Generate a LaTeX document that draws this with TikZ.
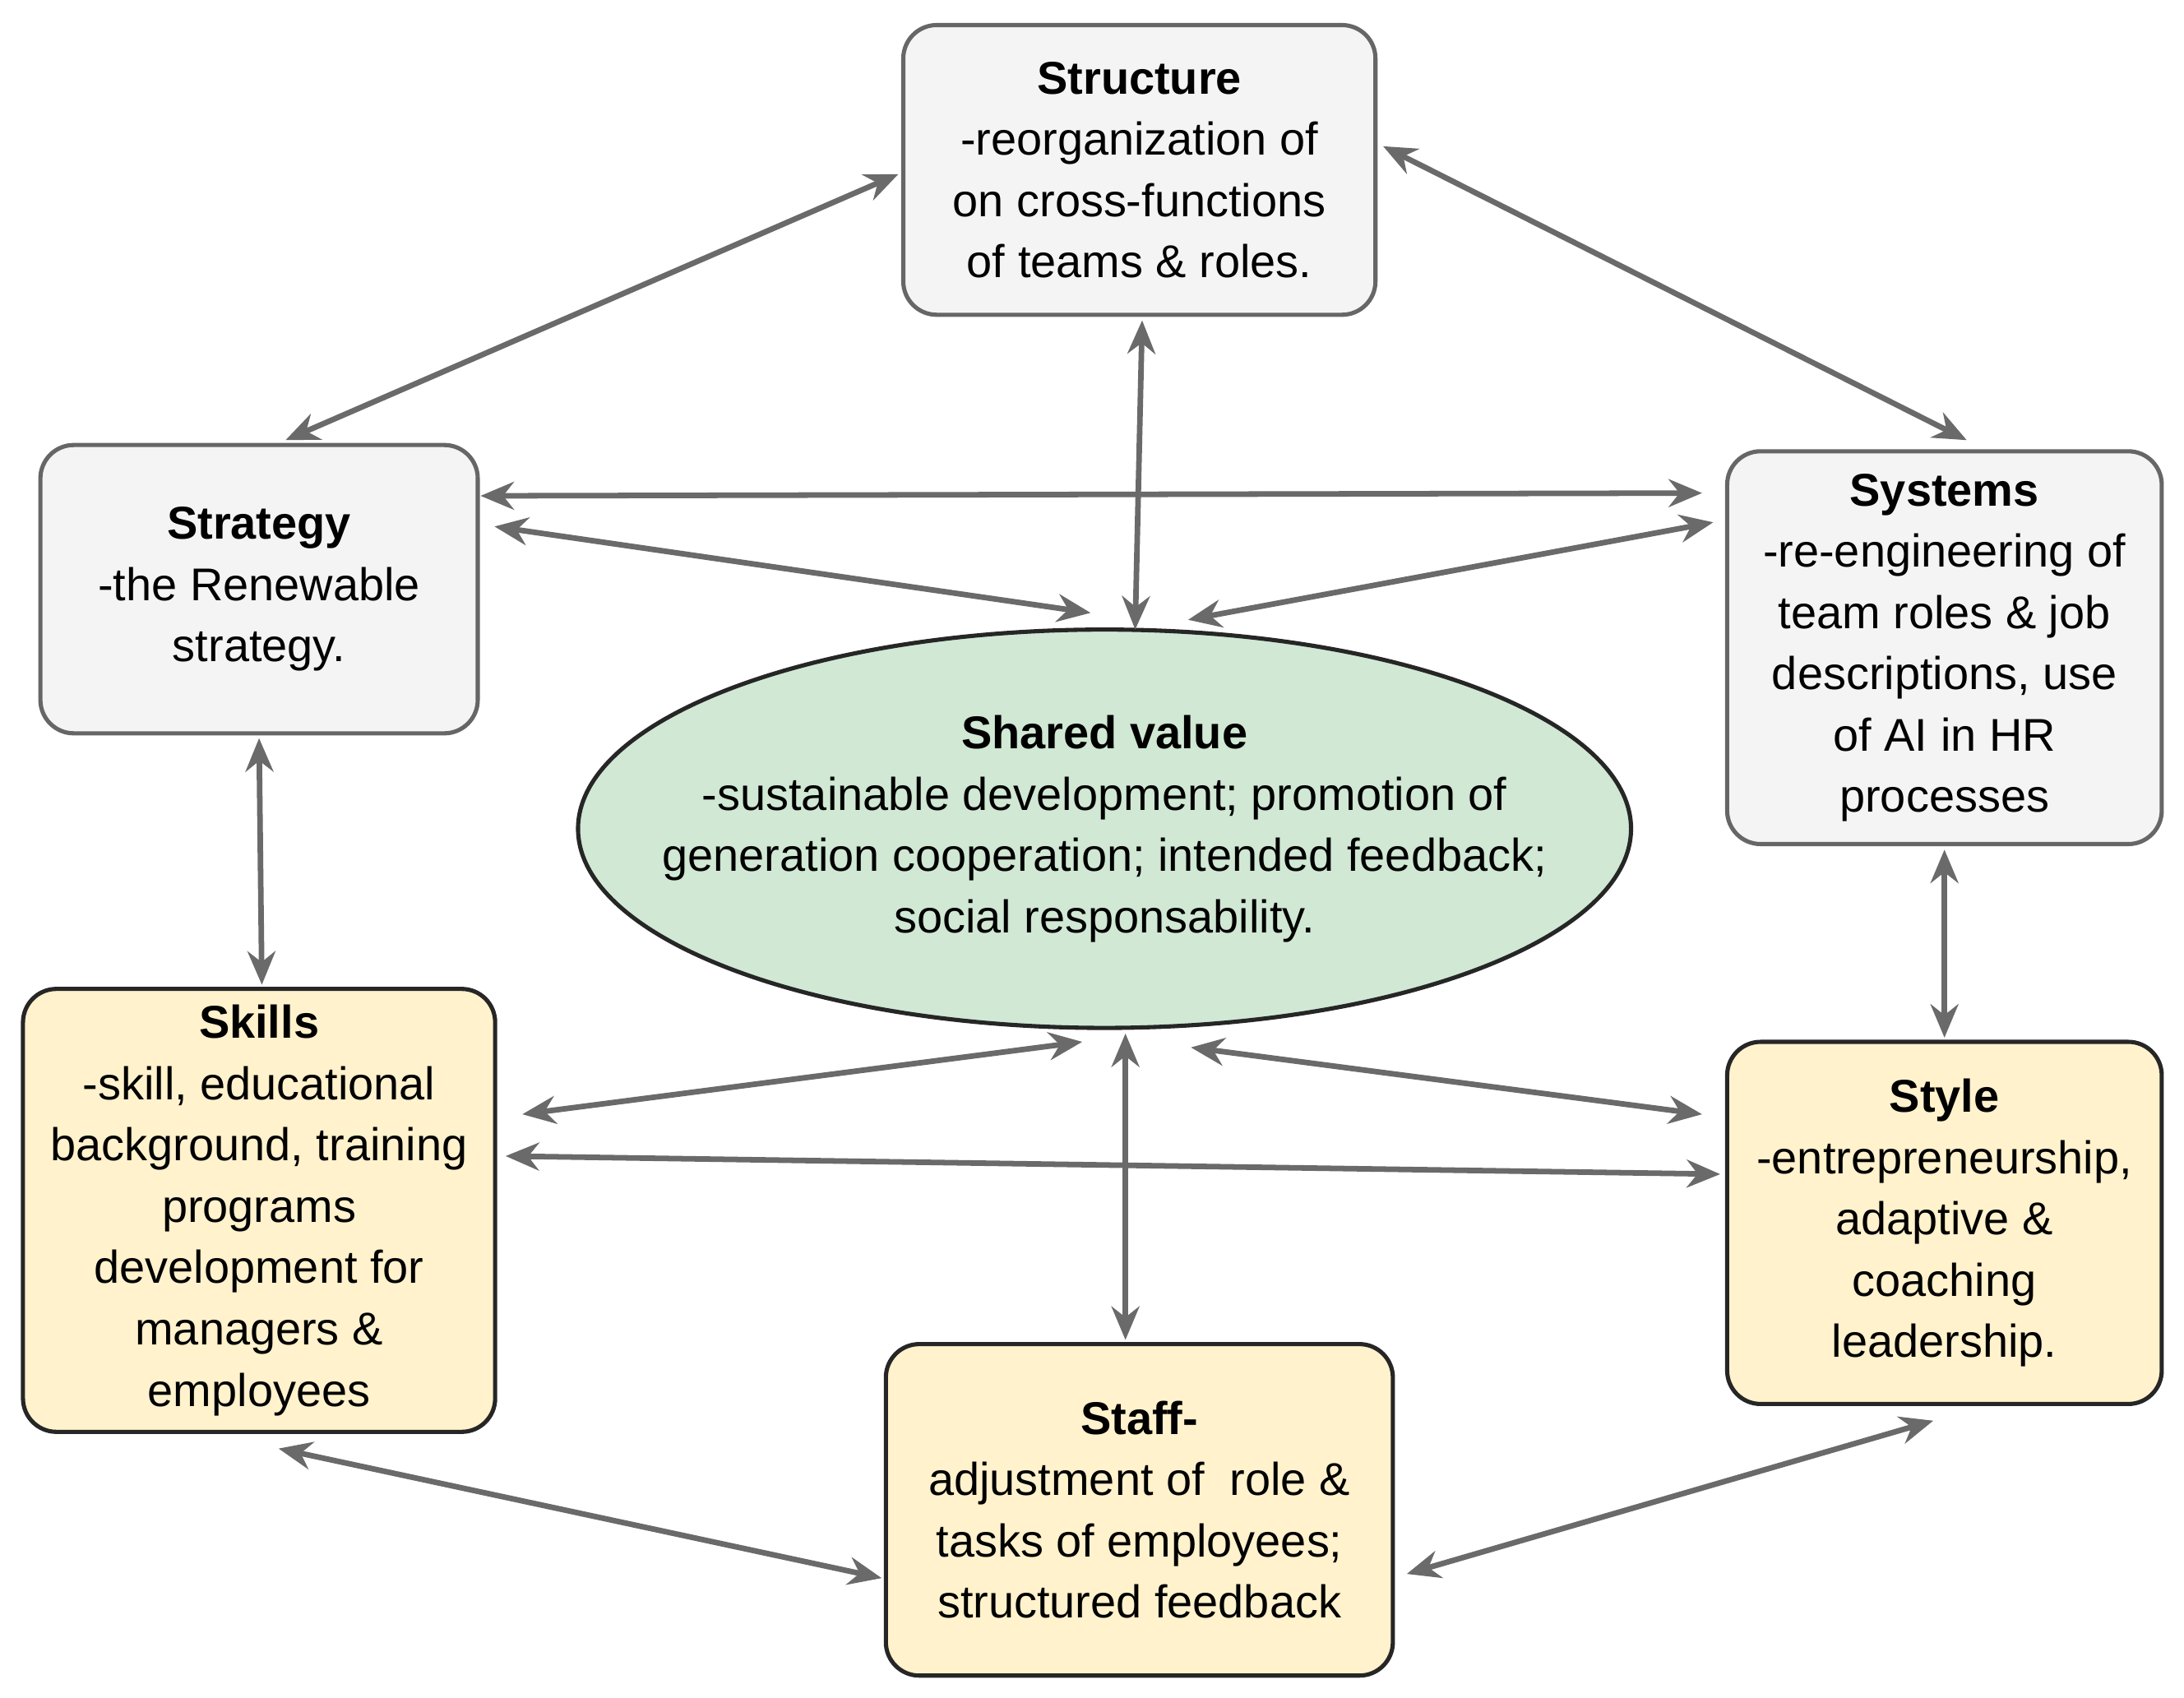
\documentclass[tikz,border=0pt]{standalone}
\usepackage{fontspec}
\setmainfont{Liberation Sans}
\usetikzlibrary{shapes.geometric,arrows.meta}
\definecolor{gbox}{HTML}{F4F4F4}
\definecolor{gline}{HTML}{666666}
\definecolor{ybox}{HTML}{FFF2CC}
\definecolor{gell}{HTML}{D0E8D4}
\definecolor{arr}{HTML}{6A6A6A}
\begin{document}
\begin{tikzpicture}[x=0.5pt,y=-0.5pt,
  txt/.style={align=center,font=\fontsize{16.5}{22}\selectfont,inner sep=0pt},
  gb/.style={txt,draw=gline,fill=gbox,line width=1.5pt,rounded corners=12pt},
  yb/.style={txt,draw=black!85,fill=ybox,line width=1.5pt,rounded corners=12pt},
  ar/.style={draw=arr,line width=2pt,{Stealth[length=12pt,width=10pt]}-{Stealth[length=12pt,width=10pt]}}]
\useasboundingbox (0,0) rectangle (1568,1219);
\node[gb,minimum width=169.5pt,minimum height=104pt] (struct) at (818,122) {\textbf{Structure}\\-reorganization of\\on cross-functions\\of teams \& roles.};
\node[gb,minimum width=157pt,minimum height=103.5pt] (strat) at (186,423) {\textbf{Strategy}\\-the Renewable\\strategy.};
\node[gb,minimum width=156pt,minimum height=141pt] (sys) at (1396,465) {\textbf{Systems}\\-re-engineering of\\team roles \& job\\descriptions, use\\of AI in HR\\processes};
\node[txt,ellipse,draw=black!85,fill=gell,line width=1.5pt,minimum width=378pt,minimum height=143pt] (sv) at (793,595) {};
\node[txt] (svt) at (793,595) {\textbf{Shared value}\\-sustainable development; promotion of\\generation cooperation; intended feedback;\\social responsability.};
\node[yb,minimum width=169.5pt,minimum height=159pt] (skills) at (186,869) {\textbf{Skills}\\-skill, educational\\background, training\\programs\\development for\\managers \&\\employees};
\node[yb,minimum width=156pt,minimum height=130pt] (style) at (1396,878) {\textbf{Style}\\-entrepreneurship,\\adaptive \&\\coaching\\leadership.};
\node[yb,minimum width=182pt,minimum height=119pt] (staff) at (818,1084) {\textbf{Staff-}\\adjustment of~ role \&\\tasks of employees;\\structured feedback};
\coordinate (a1) at (645,125); \coordinate (a2) at (205,316);
\coordinate (b1) at (993,105); \coordinate (b2) at (1412,316);
\coordinate (c1) at (820,230); \coordinate (c2) at (815,452);
\coordinate (d1) at (345,356); \coordinate (d2) at (1222,354);
\coordinate (e1) at (355,378); \coordinate (e2) at (783,440);
\coordinate (f1) at (853,445); \coordinate (f2) at (1230,375);
\coordinate (g1) at (186,530); \coordinate (g2) at (188,707);
\coordinate (h1) at (1396,610); \coordinate (h2) at (1396,745);
\coordinate (i1) at (777,748); \coordinate (i2) at (375,800);
\coordinate (j1) at (855,752); \coordinate (j2) at (1222,800);
\coordinate (k1) at (363,830); \coordinate (k2) at (1235,843);
\coordinate (l1) at (808,742); \coordinate (l2) at (808,962);
\coordinate (m1) at (200,1040); \coordinate (m2) at (633,1133);
\coordinate (n1) at (1010,1130); \coordinate (n2) at (1388,1020);
\foreach \p in {a,b,c,d,e,f,g,h,i,j,k,l,m,n} \draw[ar] (\p1) -- (\p2);
\end{tikzpicture}
\end{document}
